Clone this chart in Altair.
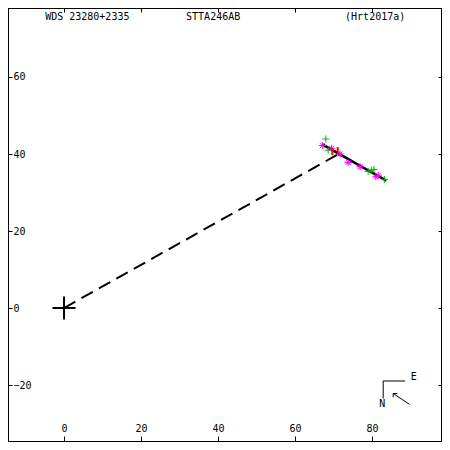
import altair as alt
import pandas as pd

# ---- data ----
X_DOMAIN = [-14.55, 98.18]
Y_DOMAIN = [-34.8, 77.92]
x_ticks = [0, 20, 40, 60, 80]
y_ticks = [-20, 0, 20, 40, 60]

green_x = [68.0, 68.6, 79.0, 79.9, 80.5, 83.2]
green_y = [43.9, 41.0, 35.5, 35.8, 36.0, 33.4]

magenta_x = [67.1, 69.5, 71.7, 73.8, 76.9, 81.0, 81.6]
magenta_y = [42.2, 41.5, 40.0, 37.8, 36.7, 34.1, 34.5]

red_x = [69.7, 71.1]
red_y = [40.6, 40.9]

fit_x = [67.1, 83.7]
fit_y = [42.5, 33.1]

dash_x = [0.0, 71.5]
dash_y = [0.0, 40.1]

origin_x = [0.0]
origin_y = [0.0]

title_texts = ["WDS 23280+2335", "STTA246AB", "(Hrt2017a)"]
title_x = [-4.9, 31.7, 73.0]
title_y = [74.7, 74.7, 74.7]

# compass (N / E indicator and motion arrow)
comp_x = [82.9, 82.9, 85.5, 85.5, 85.5]
comp_y = [-18.96, -18.96, -22.2, -22.2, -22.2]
comp_x2 = [82.9, 88.6, 89.7, 86.6, 85.5]
comp_y2 = [-23.5, -18.96, -25.0, -22.2, -23.2]
comp_text = ["E", "N"]
comp_text_x = [90.05, 81.9]
comp_text_y = [-18.7, -25.6]

FONT = "DejaVu Sans Mono"

xs = alt.Scale(domain=X_DOMAIN, nice=False, zero=False)
ys = alt.Scale(domain=Y_DOMAIN, nice=False, zero=False)

common_axis = dict(domain=False, grid=False, tickColor="black", tickWidth=1,
                   labelColor="black", labelFont=FONT, labelFontSize=10,
                   title=None, labelOverlap=False)

ax_bottom = alt.Axis(orient="bottom", values=x_ticks, offset=-6, tickSize=6,
                     labelBaseline="bottom", labelPadding=-9, labelFlush=False,
                     **common_axis)
ax_left = alt.Axis(orient="left", values=y_ticks, offset=-4, tickSize=4,
                   labelAlign="left", labelBaseline="middle", labelPadding=-5,
                   labelFlush=False, **common_axis)
ax_top = alt.Axis(orient="top", values=x_ticks, offset=-4, tickSize=4,
                  labels=False, **common_axis)
ax_right = alt.Axis(orient="right", values=y_ticks, offset=-4, tickSize=4,
                    labels=False, **common_axis)

def X(axis=None):
    return alt.X("x:Q", scale=xs, axis=axis)

def Y(axis=None):
    return alt.Y("y:Q", scale=ys, axis=axis)

dash_df = pd.DataFrame({"x": dash_x, "y": dash_y, "o": range(len(dash_x))})
fit_df = pd.DataFrame({"x": fit_x, "y": fit_y, "o": range(len(fit_x))})
green_df = pd.DataFrame({"x": green_x, "y": green_y})
mag_df = pd.DataFrame({"x": magenta_x, "y": magenta_y})
red_df = pd.DataFrame({"x": red_x, "y": red_y})
orig_df = pd.DataFrame({"x": origin_x, "y": origin_y})
title_df = pd.DataFrame({"x": title_x, "y": title_y, "t": title_texts})
comp_df = pd.DataFrame({"x": comp_x, "y": comp_y, "x2": comp_x2, "y2": comp_y2})
ctext_df = pd.DataFrame({"x": comp_text_x, "y": comp_text_y, "t": comp_text})

dash = alt.Chart(dash_df).mark_line(color="black", strokeWidth=2, strokeDash=[13, 7]).encode(
    x=X(ax_bottom), y=Y(ax_left), order="o:O")
axes2 = alt.Chart(dash_df).mark_line(opacity=0).encode(x=X(ax_top), y=Y(ax_right))

fit = alt.Chart(fit_df).mark_line(color="black", strokeWidth=2.5).encode(
    x=X(), y=Y(), order="o:O")

PLUS = "M-1,0L1,0M0,-1L0,1"
STAR = "M-1,0L1,0M0,-1L0,1M-0.7,-0.7L0.7,0.7M-0.7,0.7L0.7,-0.7"
VBAR = "M0,-1L0,1"

green = alt.Chart(green_df).mark_point(shape=PLUS, size=49, color="#00b400",
                                       filled=False, strokeWidth=1, opacity=1).encode(x=X(), y=Y())
mag = alt.Chart(mag_df).mark_point(shape=STAR, size=49, color="#ff00ff",
                                   filled=False, strokeWidth=1, opacity=1).encode(x=X(), y=Y())
red = alt.Chart(red_df).mark_point(shape=VBAR, size=49, color="#ff0000",
                                   filled=False, strokeWidth=2, opacity=1).encode(x=X(), y=Y())
orig = alt.Chart(orig_df).mark_point(shape=PLUS, size=529, color="black",
                                     filled=False, strokeWidth=2, opacity=1).encode(x=X(), y=Y())

titles = alt.Chart(title_df).mark_text(font=FONT, fontSize=10, align="left",
                                       baseline="alphabetic", color="black").encode(
    x=X(), y=Y(), text="t:N")

comp = alt.Chart(comp_df).mark_rule(color="black", strokeWidth=1).encode(
    x=X(), y=Y(), x2="x2:Q", y2="y2:Q")
ctext = alt.Chart(ctext_df).mark_text(font=FONT, fontSize=10, align="left",
                                      baseline="alphabetic", color="black").encode(
    x=X(), y=Y(), text="t:N")

chart = alt.layer(dash, axes2, fit, green, mag, red, orig, titles, comp, ctext).resolve_axis(
    x="independent", y="independent"
).properties(
    width=434, height=434, padding=0, autosize=alt.AutoSizeParams(type="none"),
    background="white"
).configure_view(stroke="black", strokeWidth=2)

chart.save("out.html", embed_options={"renderer": "svg", "actions": False})
